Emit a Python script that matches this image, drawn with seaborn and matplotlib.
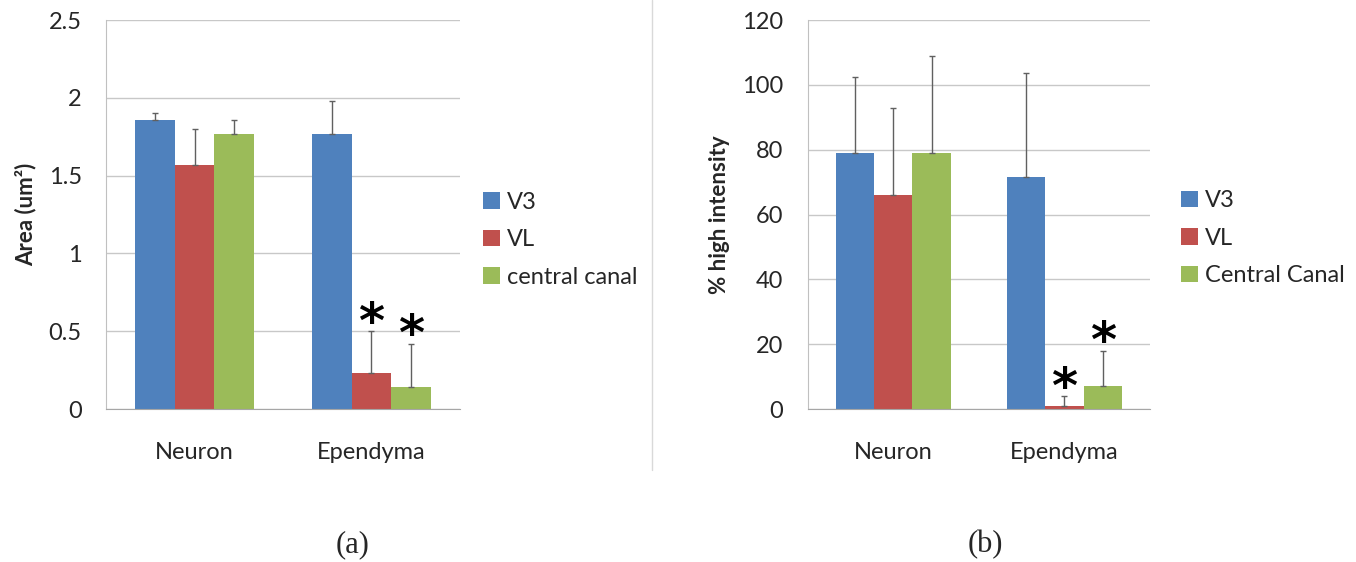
import numpy as np
import pandas as pd
import matplotlib
matplotlib.use("Agg")
import matplotlib.pyplot as plt
import seaborn as sns
from matplotlib.lines import Line2D

# Data
regions = ['Neuron', 'Ependyma']
names_a = ['V3', 'VL', 'central canal']
names_b = ['V3', 'VL', 'Central Canal']

area_v3 = [1.86, 1.77]
area_vl = [1.57, 0.23]
area_cc = [1.77, 0.14]
area_err_v3 = [0.04, 0.21]
area_err_vl = [0.23, 0.27]
area_err_cc = [0.09, 0.28]

high_v3 = [79, 71.5]
high_vl = [66, 1]
high_cc = [79, 7]
high_err_v3 = [23.5, 32]
high_err_vl = [27, 3]
high_err_cc = [30, 11]

# (series index, region index) marked significant
stars = [(1, 1), (2, 1)]

colors = ['#4F81BD', '#C0504D', '#9BBB59']

sns.set_style('white')
plt.rcParams['font.family'] = ['Lato', 'DejaVu Sans']
txt = '#262626'
fs = 17


def panel(ax, vals, errs, names, ymax, step, ylabel, leg_x, leg_y):
    df = pd.DataFrame({
        'region': regions * len(names),
        'group': np.repeat(names, len(regions)),
        'value': np.concatenate(vals),
    })
    sns.barplot(data=df, x='region', y='value', hue='group', order=regions,
                hue_order=names, palette=colors, saturation=1, width=0.67,
                errorbar=None, linewidth=0, legend=False, ax=ax)
    tops = {}
    for i, (cont, err) in enumerate(zip(ax.containers, errs)):
        for j, (bar, e) in enumerate(zip(cont, err)):
            x = bar.get_x() + bar.get_width() / 2
            h = bar.get_height()
            ax.errorbar(x, h, yerr=[[0], [e]], fmt='none', ecolor='#606060',
                        elinewidth=1, capsize=2, capthick=1, zorder=3)
            tops[(i, j)] = (x, h + e)
    for key in stars:
        x, y = tops[key]
        ax.annotate('*', (x, y), xytext=(0, -12), textcoords='offset points',
                    ha='center', va='bottom', fontsize=36, fontweight='bold',
                    family='DejaVu Sans', color='black')

    ax.set_xlim(-0.5, 1.5)
    ax.set_ylim(0, ymax)
    ticks = np.arange(0, ymax + step / 2, step)
    ax.set_yticks(ticks)
    ax.set_yticklabels([f'{t:g}' for t in ticks], fontsize=fs, color=txt)
    ax.set_xticks([-0.5, 0.5, 1.5])
    ax.set_xticklabels([])
    ax.set_xticks([0, 1], minor=True)
    ax.set_xticklabels(regions, minor=True, fontsize=fs, color=txt)
    ax.tick_params(axis='x', which='major', length=6, color='#a6a6a6', direction='out')
    ax.tick_params(axis='x', which='minor', length=0, pad=24)
    ax.tick_params(axis='y', length=6.5, color='#c0c0c0', direction='out', pad=11)
    ax.yaxis.grid(True, color='#c8c8c8', linewidth=1)
    ax.set_axisbelow(True)
    for s in ['top', 'right']:
        ax.spines[s].set_visible(False)
    ax.spines['left'].set_color('#c0c0c0')
    ax.spines['bottom'].set_color('#a6a6a6')
    ax.set_xlabel('')
    ax.set_ylabel(ylabel, fontsize=16, fontweight='bold', color=txt, labelpad=9)

    fig.legend(ax.containers, names, loc='center left',
               bbox_to_anchor=(leg_x, leg_y), frameon=False, fontsize=fs,
               handlelength=0.7, handleheight=0.7, handletextpad=0.3,
               labelspacing=0.7, labelcolor=txt)


fig = plt.figure(figsize=(13.56, 5.62), dpi=100)
ax1 = fig.add_axes([0.0782, 0.2722, 0.261, 0.6922])
ax2 = fig.add_axes([0.5957, 0.2722, 0.2524, 0.6922])

panel(ax1, [area_v3, area_vl, area_cc], [area_err_v3, area_err_vl, area_err_cc],
      names_a, 2.5, 0.5, 'Area (um²)', 462 / 1356, 0.573)
panel(ax2, [high_v3, high_vl, high_cc], [high_err_v3, high_err_vl, high_err_cc],
      names_b, 120, 20, '% high intensity', 1160 / 1356, 0.576)

fig.add_artist(Line2D([652 / 1356] * 2, [1 - 470 / 562, 1], color='#d9d9d9',
                      lw=1, transform=fig.transFigure))
fig.text(353 / 1356, 1 - 545 / 562, '(a)', family='Liberation Serif',
         fontsize=22, ha='center', va='center')
fig.text(985 / 1356, 1 - 545 / 562, '(b)', family='Liberation Serif',
         fontsize=22, ha='center', va='center')

fig.savefig('out.png', dpi=100)
